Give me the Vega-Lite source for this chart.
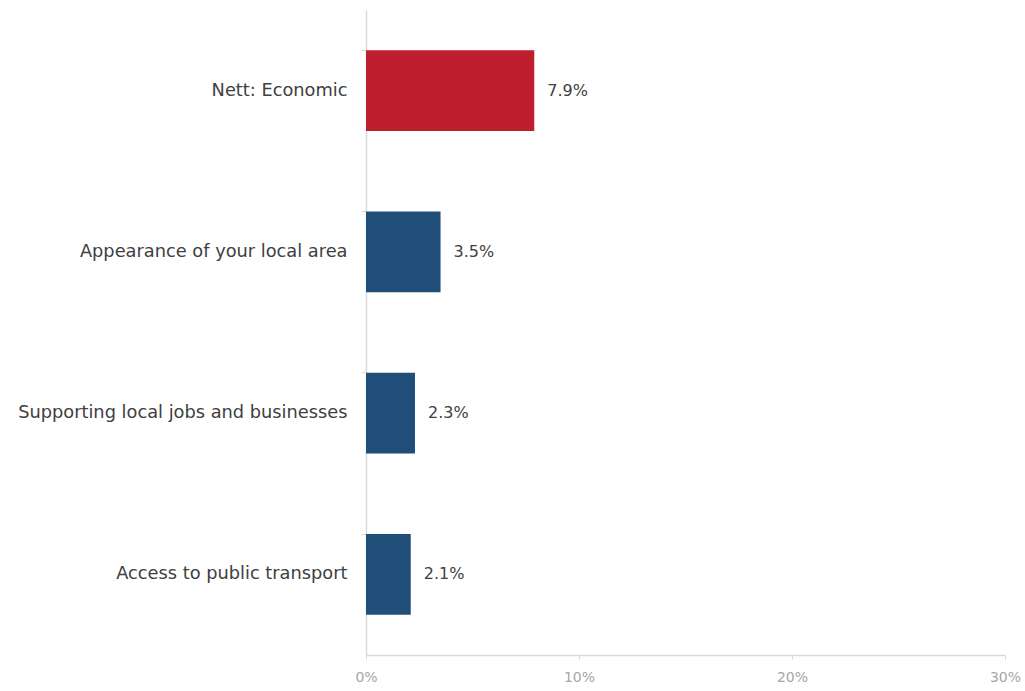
{
  "$schema": "https://vega.github.io/schema/vega-lite/v6.json",
  "width": 639,
  "height": 645,
  "autosize": {"type": "none"},
  "padding": {"left": 366, "top": 10, "right": 20, "bottom": 36},
  "background": "white",
  "config": {"view": {"stroke": null}, "font": "DejaVu Sans"},
  "data": {
    "values": [
      {"category": "Nett: Economic", "value": 7.9, "group": "nett"},
      {"category": "Appearance of your local area", "value": 3.5, "group": "item"},
      {"category": "Supporting local jobs and businesses", "value": 2.3, "group": "item"},
      {"category": "Access to public transport", "value": 2.1, "group": "item"}
    ]
  },
  "encoding": {
    "y": {
      "field": "category",
      "type": "nominal",
      "sort": null,
      "scale": {"paddingInner": 0.5, "paddingOuter": 0.25},
      "axis": {
        "title": null,
        "domainColor": "#d9d9d9",
        "domainWidth": 1.5,
        "tickColor": "#d9d9d9",
        "tickSize": 5,
        "bandPosition": 0,
        "labelPadding": 14,
        "labelFontSize": 17.8,
        "labelColor": "#404040",
        "labelFont": "DejaVu Sans",
        "labelLimit": 400
      }
    },
    "x": {
      "field": "value",
      "type": "quantitative",
      "scale": {"domain": [0, 30]},
      "axis": {
        "title": null,
        "values": [0, 10, 20, 30],
        "labelExpr": "datum.value + '%'",
        "labelFlush": false,
        "grid": false,
        "domainColor": "#d9d9d9",
        "domainWidth": 1.5,
        "tickColor": "#d9d9d9",
        "tickSize": 4,
        "labelPadding": 11,
        "labelFontSize": 14,
        "labelColor": "#a6a6a6",
        "labelFont": "DejaVu Sans"
      }
    }
  },
  "layer": [
    {
      "mark": {"type": "bar"},
      "encoding": {
        "color": {
          "field": "group",
          "type": "nominal",
          "scale": {"domain": ["nett", "item"], "range": ["#BE1E2D", "#1F4E79"]},
          "legend": null
        }
      }
    },
    {
      "transform": [{"calculate": "format(datum.value, '.1f') + '%'", "as": "label"}],
      "mark": {"type": "text", "align": "left", "dx": 13, "fontSize": 16, "color": "#404040", "font": "DejaVu Sans"},
      "encoding": {
        "text": {"field": "label", "type": "nominal"}
      }
    }
  ]
}
